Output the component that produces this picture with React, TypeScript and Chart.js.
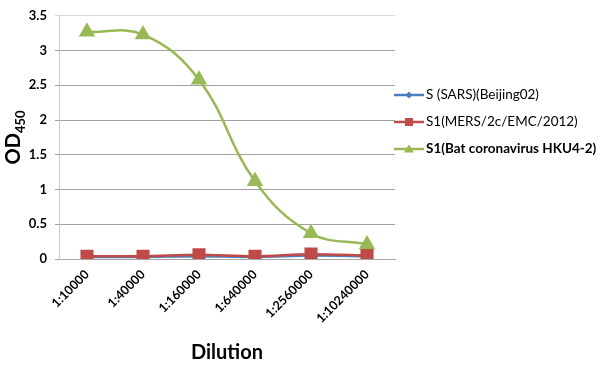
import React, { useEffect, useRef } from "react";
import { Chart, registerables } from "chart.js";

Chart.register(...registerables);

const categories = ["1:10000", "1:40000", "1:160000", "1:640000", "1:2560000", "1:10240000"];
const sarsValues = [0.03, 0.03, 0.04, 0.03, 0.05, 0.04];
const mersValues = [0.04, 0.04, 0.06, 0.04, 0.07, 0.05];
const batValues = [3.27, 3.23, 2.58, 1.12, 0.37, 0.21];
const seriesNames = ["S (SARS)(Beijing02)", "S1(MERS/2c/EMC/2012)", "S1(Bat coronavirus HKU4-2)"];
const yTicks = [0, 0.5, 1, 1.5, 2, 2.5, 3, 3.5];

const FONT = "Lato, 'Noto Sans', sans-serif";

const extrasPlugin = {
  id: "extras",
  afterDraw(chart: any) {
    const ctx = chart.ctx;
    const area = chart.chartArea;
    // Y title OD450 with subscript
    ctx.save();
    const cy = (area.top + area.bottom) / 2;
    ctx.translate(20, cy);
    ctx.rotate(-Math.PI / 2);
    ctx.fillStyle = "#000";
    ctx.textBaseline = "alphabetic";
    ctx.font = `bold 20px ${FONT}`;
    const w1 = ctx.measureText("OD").width;
    ctx.font = `bold 13px ${FONT}`;
    const w2 = ctx.measureText("450").width;
    const start = -(w1 + w2) / 2;
    ctx.font = `bold 20px ${FONT}`;
    ctx.fillText("OD", start, 0);
    ctx.font = `bold 13px ${FONT}`;
    ctx.fillText("450", start + w1, 5);
    ctx.restore();

    // Legend
    const items = chart.data.datasets;
    const ys = [95, 122, 149];
    items.forEach((ds: any, i: number) => {
      const y = ys[i];
      ctx.save();
      ctx.strokeStyle = ds.borderColor;
      ctx.lineWidth = 2.5;
      ctx.beginPath();
      ctx.moveTo(394, y);
      ctx.lineTo(424, y);
      ctx.stroke();
      ctx.fillStyle = ds.pointBackgroundColor;
      const x = 409;
      ctx.beginPath();
      if (ds.pointStyle === "rectRot") {
        ctx.moveTo(x, y - 3.5); ctx.lineTo(x + 3.5, y); ctx.lineTo(x, y + 3.5); ctx.lineTo(x - 3.5, y); ctx.closePath();
      } else if (ds.pointStyle === "rect") {
        ctx.rect(x - 4, y - 4, 8, 8);
      } else {
        ctx.moveTo(x, y - 4.5); ctx.lineTo(x + 5, y + 3.5); ctx.lineTo(x - 5, y + 3.5); ctx.closePath();
      }
      ctx.fill();
      ctx.fillStyle = "#000";
      ctx.font = `${i === 2 ? "bold " : ""}13.5px ${FONT}`;
      ctx.textBaseline = "middle";
      ctx.fillText(ds.label, 426, y);
      ctx.restore();
    });
  },
};

export default function App() {
  const ref = useRef<HTMLCanvasElement>(null);
  useEffect(() => {
    const chart = new Chart(ref.current as HTMLCanvasElement, {
      type: "line",
      data: {
        labels: categories,
        datasets: [
          {
            label: seriesNames[0], data: sarsValues, borderColor: "#4a7ebb", backgroundColor: "#4a7ebb",
            pointBackgroundColor: "#4a7ebb", pointBorderColor: "#4a7ebb", pointStyle: "rectRot",
            pointRadius: 3.5, borderWidth: 2.5, tension: 0.3, order: 2,
          },
          {
            label: seriesNames[1], data: mersValues, borderColor: "#be4b48", backgroundColor: "#be4b48",
            pointBackgroundColor: "#be4b48", pointBorderColor: "#be4b48", pointStyle: "rect",
            pointRadius: 7.5, borderWidth: 2.5, tension: 0.3, order: 0,
          },
          {
            label: seriesNames[2], data: batValues, borderColor: "#98b954", backgroundColor: "#98b954",
            pointBackgroundColor: "#98b954", pointBorderColor: "#98b954", pointStyle: "triangle",
            pointRadius: 7, borderWidth: 2.5, tension: 0.4, order: 1,
          },
        ],
      },
      options: {
        animation: false,
        responsive: false,
        layout: { padding: { top: 13, right: 205, left: 0, bottom: 0 } },
        plugins: { legend: { display: false }, tooltip: { enabled: false } },
        scales: {
          x: {
            offset: true,
            grid: { display: false, drawTicks: false },
            border: { color: "#a6a6a6" },
            ticks: { minRotation: 45, maxRotation: 45, color: "#000", font: { family: FONT, size: 12.5, weight: "bold" }, padding: 8 },
            title: { display: true, text: "Dilution", color: "#000", font: { family: FONT, size: 20, weight: "bold" }, padding: { top: 4 } },
            afterFit: (s: any) => { s.height = 110; },
          },
          y: {
            min: 0, max: 3.5,
            afterBuildTicks: (s: any) => { s.ticks = yTicks.map((v) => ({ value: v })); },
            grid: { color: (c: any) => (c.tick && c.tick.value === 3.5 ? "#d9d9d9" : "#a0a0a0"), tickLength: 4 },
            border: { color: "#c8c8c8" },
            ticks: { color: "#000", font: { family: FONT, size: 13, weight: "bold" }, padding: 8, callback: (v: any) => String(v) },
            afterFit: (s: any) => { s.width = 59; },
          },
        },
      } as any,
      plugins: [extrasPlugin],
    });
    return () => chart.destroy();
  }, []);
  return (
    <div style={{ position: "absolute", left: 0, top: 0, width: 600, height: 369, background: "#fff" }}>
      <canvas ref={ref} width={600} height={369} style={{ width: 600, height: 369 }} />
    </div>
  );
}
